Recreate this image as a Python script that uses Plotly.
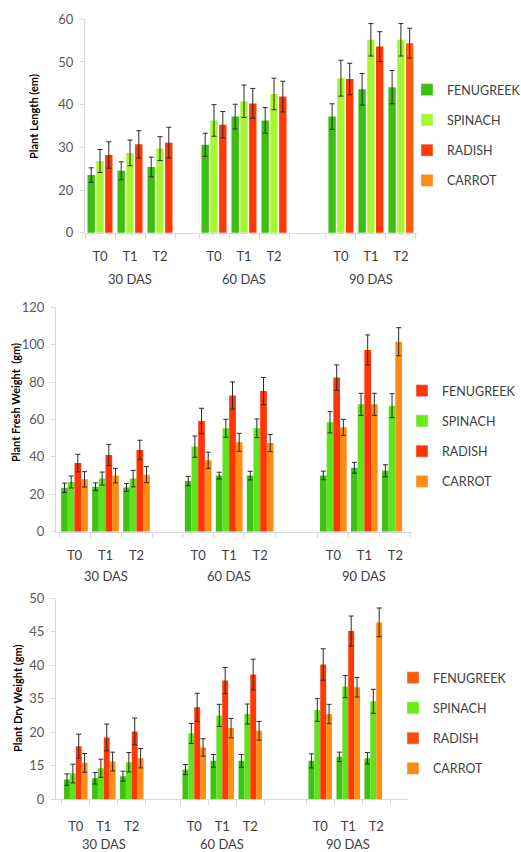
import plotly.graph_objects as go

W, H = 521, 852

groups = ["30 DAS", "60 DAS", "90 DAS"]
treatments = ["T0", "T1", "T2"]
crops = ["FENUGREEK", "SPINACH", "RADISH", "CARROT"]

# ---- Panel 1: Plant length (values flattened: group-major, T0..T2) ----
len_fen = [23.5, 24.5, 25.4, 30.6, 37.2, 36.3, 37.2, 43.6, 44.1]
len_fen_err = [1.7, 2.1, 2.3, 2.7, 2.9, 3.0, 3.0, 3.7, 3.9]
len_spi = [26.8, 28.7, 29.7, 36.3, 40.8, 42.5, 46.2, 55.2, 55.2]
len_spi_err = [2.7, 3.0, 2.8, 3.7, 3.8, 3.7, 4.2, 3.8, 3.8]
len_rad = [28.2, 30.7, 31.1, 35.3, 40.3, 41.9, 46.0, 53.6, None]
len_rad_err = [3.1, 3.2, 3.6, 3.1, 3.5, 3.6, 3.7, 3.5, None]
len_car = [None, None, None, None, None, None, None, None, 54.4]
len_car_err = [None, None, None, None, None, None, None, None, 3.5]
len_ticktext = ["0", "20", "30", "40", "50", "60"]
len_tickvals = [10, 20, 30, 40, 50, 60]

# ---- Panel 2: Plant fresh weight ----
fw_fen = [23.5, 24.1, 23.7, 27.1, 30.0, 30.0, 30.1, 34.2, 32.6]
fw_fen_err = [2.5, 2.0, 2.1, 2.5, 1.8, 2.3, 2.3, 2.9, 3.2]
fw_spi = [26.6, 28.4, 28.4, 45.5, 55.3, 55.3, 58.5, 68.1, 67.4]
fw_spi_err = [3.2, 3.5, 4.4, 5.7, 4.8, 5.0, 5.7, 5.9, 6.4]
fw_rad = [36.7, 41.0, 43.7, 59.2, 72.8, 75.2, 82.4, 97.2, None]
fw_rad_err = [4.7, 5.7, 5.2, 6.8, 7.3, 7.3, 6.8, 8.0, None]
fw_car = [28.0, 30.0, 30.5, 38.2, 47.8, 47.4, 55.8, 68.1, 101.6]
fw_car_err = [4.1, 3.9, 4.3, 4.3, 4.8, 4.6, 4.3, 5.9, 7.5]
fw_tickvals = [0, 20, 40, 60, 80, 100, 120]
fw_ticktext = ["0", "20", "40", "60", "80", "100", "120"]

# ---- Panel 3: Plant dry weight ----
dw_fen = [22.9, 23.1, 23.4, 24.4, 25.7, 25.7, 25.7, 26.3, 26.1]
dw_fen_err = [0.85, 0.85, 0.75, 0.75, 0.95, 0.95, 1.05, 0.7, 0.85]
dw_spi = [23.8, 24.6, 25.5, 29.8, 32.5, 32.7, 33.3, 36.8, 34.6]
dw_spi_err = [1.4, 1.35, 1.45, 1.5, 1.65, 1.5, 1.7, 1.65, 1.8]
dw_rad = [27.9, 29.2, 30.1, 33.7, 37.7, 38.6, 40.1, 45.1, None]
dw_rad_err = [1.8, 2.0, 2.0, 2.1, 1.95, 2.3, 2.35, 2.25, None]
dw_car = [25.4, 25.6, 26.1, 27.7, 30.6, 30.2, 32.7, 36.7, 46.4]
dw_car_err = [1.4, 1.4, 1.45, 1.3, 1.45, 1.4, 1.45, 1.45, 2.15]
dw_tickvals = [20, 25, 30, 35, 40, 45, 50]
dw_ticktext = ["0", "15", "20", "35", "40", "45", "50"]

FONT = "Lato, 'Open Sans', Arial, sans-serif"
TICKC = "#595959"
AXC = "#d9d9d9"

panels = [
    dict(series=[(len_fen, len_fen_err), (len_spi, len_spi_err), (len_rad, len_rad_err), (len_car, len_car_err)],
         bar_colors=["#3cbf12", "#a8f532", "#ff3a06", "#ff5e12"],
         leg_colors=["#3cbf12", "#a8f532", "#ff3a06", "#ff8a10"],
         nslots=3, gw=0.88, bw_frac=0.84,
         title="Plant Length (em)", title_x=33, title_y=117,
         yr=[10, 60], tv=len_tickvals, tt=len_ticktext,
         px0=85, px1=416.7, c0=100, unit=30, goff=[0, 3.8, 8.03],
         ytop=19.3, ybot=232.7, tlab=256, dlab=279,
         leg_x=407, leg_y=75),
    dict(series=[(fw_fen, fw_fen_err), (fw_spi, fw_spi_err), (fw_rad, fw_rad_err), (fw_car, fw_car_err)],
         bar_colors=["#40c214", "#5fe31c", "#ff3506", "#ff8c14"],
         leg_colors=["#ff3506", "#66ee12", "#ff3506", "#ff8c14"],
         nslots=4, gw=0.86, bw_frac=1.0,
         title="Plant Fresh Weight  (gm)", title_x=15, title_y=403,
         yr=[0, 120], tv=fw_tickvals, tt=fw_ticktext,
         px0=56, px1=411.7, c0=74.5, unit=31, goff=[0, 3.99, 8.35],
         ytop=307.3, ybot=531.7, tlab=555, dlab=576,
         leg_x=402, leg_y=376),
    dict(series=[(dw_fen, dw_fen_err), (dw_spi, dw_spi_err), (dw_rad, dw_rad_err), (dw_car, dw_car_err)],
         bar_colors=["#40c214", "#5fe31c", "#ff3a06", "#ff8c14"],
         leg_colors=["#ff5a0c", "#66ee12", "#ff4a08", "#ff8a12"],
         nslots=4, gw=0.84, bw_frac=1.0,
         title="Plant Dry Weight (gm)", title_x=17, title_y=698,
         yr=[20, 50], tv=dw_tickvals, tt=dw_ticktext,
         px0=56, px1=408.3, c0=75.8, unit=28, goff=[0, 4.23, 8.73],
         ytop=598.3, ybot=799, tlab=825, dlab=843.5,
         leg_x=393, leg_y=663),
]

fig = go.Figure()
annotations = []
layout = {}

for pi, p in enumerate(panels):
    sfx = "" if pi == 0 else str(pi + 1)
    xa, ya = "x" + sfx, "y" + sfx
    leg = "legend" + sfx
    # category centers (axis units)
    xs = [p["goff"][g] + t for g in range(3) for t in range(3)]
    slot = p["gw"] / p["nslots"]
    for ci, (vals, errs) in enumerate(p["series"]):
        # slot index: carrot bar at 90 DAS T2 fills the radish slot (as in the reference)
        offs = []
        for k in range(9):
            s = ci
            if ci == 3 and (p["nslots"] == 3 or k == 8):
                s = 2
            offs.append(-p["gw"] / 2 + s * slot + slot * (1 - p["bw_frac"]) / 2)
        fig.add_trace(go.Bar(
            x=xs, y=vals, xaxis=xa, yaxis=ya, name=crops[ci],
            width=slot * p["bw_frac"], offset=offs,
            marker=dict(color=p["bar_colors"][ci], line=dict(width=0)),
            error_y=dict(type="data", array=errs, color="#2a2a2a", thickness=1, width=2.5),
            showlegend=False, legend=leg,
        ))
    for ci in range(4):
        fig.add_trace(go.Bar(
            x=[None], y=[None], xaxis=xa, yaxis=ya, name=crops[ci],
            marker=dict(color=p["leg_colors"][ci]), legend=leg,
            legendgroup=f"{pi}-{ci}", showlegend=True,
        ))
    bounds = []
    for g in range(3):
        for t in range(4):
            bounds.append(p["goff"][g] - 0.5 + t)
    r0 = (p["px0"] - p["c0"]) / p["unit"]
    r1 = (p["px1"] - p["c0"]) / p["unit"]
    layout["xaxis" + sfx] = dict(
        domain=[p["px0"] / W, p["px1"] / W], range=[r0, r1], anchor=ya,
        automargin=False,
        showline=True, linecolor=AXC, linewidth=1, showgrid=False, zeroline=False,
        tickmode="array", tickvals=xs, ticktext=treatments * 3, ticks="",
        ticklabelstandoff=int(p["tlab"] - p["ybot"] - 11),
        tickfont=dict(family=FONT, size=13, color="#404040"),
        minor=dict(tickmode="array", tickvals=bounds, ticks="outside", ticklen=5,
                   tickcolor=AXC, showgrid=False),
        fixedrange=True,
    )
    layout["yaxis" + sfx] = dict(
        domain=[1 - p["ybot"] / H, 1 - p["ytop"] / H], range=p["yr"], anchor=xa,
        automargin=False,
        showline=True, linecolor=AXC, linewidth=1, showgrid=False, zeroline=False,
        tickmode="array", tickvals=p["tv"], ticktext=p["tt"], ticks="outside",
        ticklen=4, tickcolor=AXC, ticklabelstandoff=4,
        tickfont=dict(family=FONT, size=13, color=TICKC),
        fixedrange=True,
    )
    layout[leg] = dict(
        x=p["leg_x"] / W, y=1 - p["leg_y"] / H, xanchor="left", yanchor="top",
        xref="paper", yref="paper", bgcolor="rgba(0,0,0,0)",
        font=dict(family=FONT, size=12.5, color="#404040"),
        tracegroupgap=11, itemclick=False, itemdoubleclick=False,
    )
    annotations.append(dict(
        text=p["title"], x=p["title_x"] / W, y=1 - p["title_y"] / H,
        xref="paper", yref="paper", showarrow=False, textangle=-90,
        font=dict(family=FONT, size=11, color="#000000", weight="bold"),
        xanchor="center", yanchor="middle",
    ))
    for g in range(3):
        annotations.append(dict(
            text=groups[g], x=p["goff"][g] + 1, y=1 - p["dlab"] / H,
            xref=xa, yref="paper", showarrow=False,
            font=dict(family=FONT, size=13, color="#404040"),
            xanchor="center", yanchor="middle",
        ))

fig.update_layout(
    width=W, height=H, margin=dict(l=0, r=0, t=0, b=0, autoexpand=False),
    paper_bgcolor="white", plot_bgcolor="white",
    barmode="overlay", annotations=annotations, **layout,
)

fig.write_html("out.html", config={"displayModeBar": False})
